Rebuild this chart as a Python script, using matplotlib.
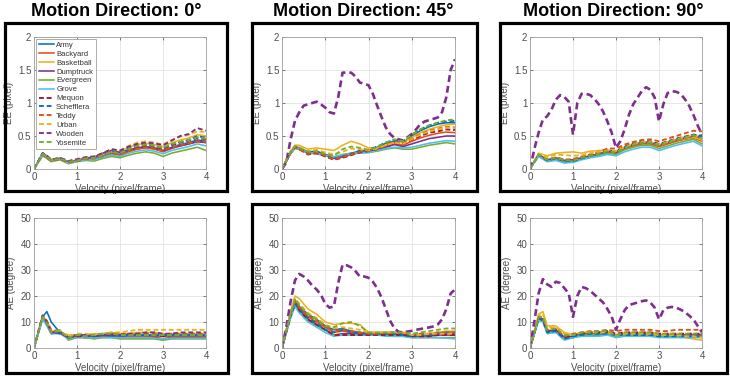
import matplotlib
matplotlib.use("Agg")
import matplotlib.pyplot as plt
from matplotlib.patches import Rectangle

plt.rcParams['font.family'] = ['Liberation Sans', 'DejaVu Sans']

# velocity grids (pixel/frame)
vel = [0.0, 0.2, 0.3, 0.4, 0.6, 0.8, 1.0, 1.2, 1.4, 1.6, 1.8, 2.0,
       2.2, 2.4, 2.6, 2.8, 3.0, 3.2, 3.4, 3.6, 3.8, 4.0]
vel_fine = [0.0, 0.1, 0.2, 0.3, 0.4, 0.5, 0.6, 0.7, 0.8, 0.9, 1.0,
            1.1, 1.2, 1.3, 1.4, 1.5, 1.6, 1.7, 1.8, 1.9, 2.0,
            2.1, 2.2, 2.3, 2.4, 2.5, 2.6, 2.7, 2.8, 2.9, 3.0,
            3.1, 3.2, 3.3, 3.4, 3.5, 3.6, 3.7, 3.8, 3.9, 4.0]

sequences = ["Army", "Backyard", "Basketball", "Dumptruck", "Evergreen", "Grove",
             "Mequon", "Schefflera", "Teddy", "Urban", "Wooden", "Yosemite"]
directions = ["0°", "45°", "90°"]

# endpoint error (pixel), direction 0
ee_0 = [
    [0, .24, .20, .14, .16, .11, .13, .15, .16, .20, .24, .22, .27, .31, .33, .31, .27, .33, .37, .40, .44, .42],
    [0, .22, .17, .12, .15, .10, .12, .15, .15, .19, .23, .21, .26, .30, .32, .30, .26, .31, .35, .38, .41, .40],
    [0, .23, .19, .13, .17, .11, .14, .17, .18, .23, .28, .26, .33, .37, .39, .37, .34, .40, .44, .47, .52, .50],
    [0, .21, .18, .12, .16, .10, .13, .16, .18, .24, .28, .25, .29, .32, .34, .32, .28, .32, .35, .38, .42, .40],
    [0, .20, .16, .11, .14, .08, .11, .13, .12, .16, .19, .17, .21, .24, .26, .24, .19, .24, .27, .30, .33, .28],
    [0, .22, .18, .12, .15, .09, .12, .14, .14, .18, .21, .19, .24, .27, .29, .27, .23, .28, .31, .34, .38, .35],
    [0, .23, .18, .13, .16, .11, .13, .16, .17, .22, .27, .24, .29, .33, .36, .34, .30, .36, .40, .43, .47, .45],
    [0, .24, .20, .14, .17, .12, .14, .17, .17, .22, .27, .25, .31, .35, .37, .35, .31, .37, .41, .44, .50, .47],
    [0, .22, .17, .12, .15, .10, .12, .15, .16, .20, .25, .22, .27, .31, .33, .31, .28, .33, .36, .39, .42, .41],
    [0, .23, .19, .13, .17, .12, .14, .17, .19, .24, .30, .28, .35, .40, .42, .40, .37, .44, .49, .52, .57, .56],
    [0, .24, .20, .14, .17, .12, .15, .18, .19, .24, .30, .28, .34, .38, .40, .39, .36, .43, .50, .53, .62, .58],
    [0, .23, .19, .13, .16, .11, .13, .16, .17, .21, .26, .24, .30, .35, .37, .35, .32, .38, .41, .44, .48, .46],
]

# endpoint error (pixel), direction 45
ee_45 = [
    [0, .26, .34, .32, .26, .27, .22, .18, .20, .24, .27, .28, .33, .39, .42, .40, .50, .58, .64, .68, .70, .70],
    [0, .25, .33, .30, .24, .25, .21, .16, .18, .22, .25, .27, .30, .34, .38, .36, .42, .47, .51, .54, .56, .55],
    [0, .27, .36, .36, .30, .32, .30, .28, .36, .42, .38, .32, .32, .36, .40, .40, .48, .55, .60, .64, .67, .68],
    [0, .24, .33, .30, .25, .26, .22, .16, .19, .23, .25, .26, .29, .33, .37, .34, .38, .42, .46, .48, .50, .50],
    [0, .23, .31, .30, .24, .23, .20, .18, .22, .24, .25, .25, .27, .30, .32, .30, .30, .33, .36, .38, .40, .38],
    [0, .24, .32, .31, .25, .24, .21, .19, .21, .23, .24, .25, .28, .31, .33, .32, .33, .36, .39, .41, .43, .42],
    [0, .25, .33, .30, .22, .24, .19, .14, .17, .21, .25, .27, .30, .36, .40, .38, .44, .50, .55, .57, .60, .59],
    [0, .26, .34, .31, .24, .26, .21, .15, .19, .23, .28, .29, .34, .40, .44, .42, .52, .60, .66, .70, .72, .73],
    [0, .25, .33, .30, .23, .25, .20, .15, .18, .22, .26, .28, .31, .37, .41, .39, .46, .53, .58, .61, .64, .63],
    [0, .27, .35, .33, .27, .29, .25, .22, .26, .31, .30, .28, .31, .36, .40, .38, .45, .52, .57, .60, .63, .62],
    [0, .10, .45, .73, .86, .96, .98, 1.0, 1.02, .98, .93, .86, .84, 1.09, 1.46, 1.46, 1.46, 1.40, 1.31, 1.29, 1.27,
     1.14, .96, .79, .63, .53, .47, .45, .43, .48, .53, .60, .68, .72, .74, .76, .78, .86, 1.09, 1.50, 1.66],
    [0, .26, .35, .32, .26, .27, .23, .20, .30, .34, .32, .29, .33, .40, .45, .42, .52, .60, .66, .70, .74, .75],
]

# endpoint error (pixel), direction 90
ee_90 = [
    [0, .22, .17, .12, .15, .10, .11, .15, .18, .21, .25, .23, .31, .36, .39, .39, .35, .39, .43, .46, .50, .46],
    [0, .21, .17, .13, .16, .12, .12, .16, .19, .22, .26, .24, .31, .35, .38, .38, .34, .38, .42, .45, .47, .42],
    [0, .24, .22, .20, .24, .25, .26, .24, .27, .28, .29, .27, .33, .37, .40, .40, .36, .40, .44, .46, .48, .44],
    [0, .22, .18, .14, .17, .13, .14, .17, .20, .23, .27, .25, .32, .37, .40, .40, .36, .40, .44, .47, .50, .48],
    [0, .20, .16, .12, .15, .11, .12, .15, .18, .21, .24, .22, .29, .33, .36, .36, .31, .35, .39, .42, .45, .38],
    [0, .19, .15, .11, .13, .09, .10, .14, .17, .19, .22, .20, .26, .30, .33, .33, .28, .32, .36, .39, .42, .35],
    [0, .22, .18, .14, .17, .14, .14, .18, .21, .24, .28, .27, .34, .39, .42, .42, .38, .42, .46, .49, .52, .50],
    [0, .22, .17, .13, .16, .12, .12, .16, .20, .23, .27, .26, .33, .38, .41, .41, .37, .41, .45, .48, .52, .50],
    [0, .22, .18, .14, .18, .14, .15, .19, .22, .26, .31, .31, .37, .41, .44, .45, .42, .46, .50, .54, .58, .57],
    [0, .23, .20, .18, .22, .21, .20, .21, .24, .26, .28, .27, .33, .38, .41, .41, .37, .41, .45, .48, .51, .47],
    [0, .30, .55, .75, .80, .90, 1.05, 1.12, 1.09, 1.02, .52, 1.0, 1.14, 1.14, 1.12, 1.06, .98, .87, .72, .55, .32,
     .42, .60, .82, .98, 1.08, 1.18, 1.24, 1.20, 1.08, .72, .98, 1.15, 1.18, 1.17, 1.14, 1.06, .96, .82, .66, .52],
    [0, .22, .18, .14, .17, .13, .13, .17, .20, .23, .27, .25, .32, .37, .40, .40, .36, .40, .44, .47, .51, .46],
]

# angular error (degree), direction 0
ae_0 = [
    [0, 12.0, 14.0, 10.0, 6.0, 4.0, 4.5, 4.0, 4.0, 4.5, 4.5, 4.0, 4.0, 4.0, 4.0, 4.0, 3.5, 4.0, 4.0, 4.0, 4.0, 4.0],
    [0, 12.0, 9.5, 6.0, 6.0, 4.0, 4.5, 4.5, 4.5, 4.5, 5.0, 4.5, 4.5, 4.5, 4.5, 4.5, 4.5, 4.5, 4.5, 4.5, 4.5, 4.5],
    [0, 12.5, 10.0, 6.5, 6.0, 5.0, 5.0, 5.0, 5.5, 5.5, 6.0, 5.5, 5.5, 6.0, 6.0, 6.0, 5.5, 5.5, 5.5, 5.5, 5.5, 5.5],
    [0, 12.0, 9.0, 5.5, 6.0, 4.0, 4.5, 4.0, 4.5, 5.0, 5.0, 4.5, 4.0, 4.0, 4.0, 4.0, 3.5, 4.0, 4.0, 4.0, 4.0, 4.0],
    [0, 11.5, 9.0, 6.0, 7.0, 3.0, 4.0, 4.0, 3.5, 4.0, 4.0, 3.5, 3.5, 3.5, 3.5, 3.5, 3.0, 3.5, 3.5, 3.5, 3.5, 3.5],
    [0, 11.0, 8.5, 5.5, 5.5, 3.5, 4.0, 4.0, 4.0, 4.0, 4.0, 4.0, 4.0, 4.0, 4.0, 3.8, 3.5, 3.8, 3.8, 3.8, 3.8, 3.8],
    [0, 12.0, 9.5, 6.0, 6.0, 4.0, 4.5, 4.5, 5.0, 5.0, 5.5, 5.0, 5.0, 5.0, 5.0, 5.0, 4.5, 5.0, 5.0, 5.0, 5.0, 5.0],
    [0, 12.0, 10.0, 6.5, 5.5, 4.5, 5.0, 5.0, 4.5, 5.0, 5.5, 5.0, 5.0, 5.0, 5.0, 5.0, 5.0, 5.0, 5.0, 5.0, 5.0, 5.0],
    [0, 12.5, 10.5, 7.0, 6.5, 4.0, 5.0, 5.0, 5.0, 5.5, 5.5, 5.5, 5.5, 5.5, 5.5, 5.5, 5.0, 5.5, 5.5, 5.5, 5.5, 5.5],
    [0, 12.0, 10.0, 6.5, 6.5, 4.5, 5.5, 5.5, 5.0, 5.5, 6.0, 6.0, 6.5, 7.0, 7.0, 7.0, 7.0, 7.0, 7.0, 7.0, 7.0, 7.0],
    [0, 12.5, 10.0, 6.0, 6.0, 4.0, 5.0, 5.0, 4.5, 5.0, 5.0, 5.0, 5.5, 5.5, 6.0, 6.0, 5.5, 5.5, 6.0, 6.0, 6.0, 6.0],
    [0, 12.0, 9.5, 6.0, 6.5, 4.0, 5.0, 4.5, 5.0, 5.5, 5.5, 5.0, 5.0, 5.0, 5.0, 5.0, 5.0, 5.0, 5.0, 5.0, 5.0, 5.0],
]

# angular error (degree), direction 45
ae_45 = [
    [0, 13, 18.5, 16, 13, 11, 8.5, 7, 7.5, 6.5, 6, 5.5, 5.5, 5.5, 5.5, 5.5, 4.5, 5, 5, 5.5, 5.5, 5.5],
    [0, 13, 18, 15.5, 12, 10, 8, 6, 6.5, 6, 5.5, 5.5, 5.5, 5.5, 5.5, 5.5, 5, 5, 5.5, 5.5, 6, 6],
    [0, 14, 20, 19, 15, 13, 10, 9, 9.5, 9.5, 9, 6, 6, 6, 6, 6, 5, 5.5, 5.5, 6, 6.5, 6.5],
    [0, 12.5, 17, 14.5, 11, 9, 7, 5, 5.5, 5.5, 5, 5, 5, 5, 5, 5, 4.5, 4.5, 4.5, 5, 5, 5],
    [0, 12, 17, 14, 10.5, 8.5, 7, 5, 5, 5, 5, 5, 5, 5, 4.5, 4.5, 4, 4, 4, 4, 4, 4],
    [0, 11.5, 16, 13.5, 10, 8, 6, 4.5, 5, 5, 5, 5, 5, 4.5, 4.5, 4.5, 4, 4, 4, 4, 3.8, 3.5],
    [0, 12.5, 17.5, 14.5, 11, 9, 7, 5, 5, 5, 5, 5, 5, 5, 5, 5, 4.5, 4.5, 4.5, 5, 5, 5],
    [0, 12.5, 17, 15, 11.5, 9.5, 7, 6, 7, 6, 5.5, 5.5, 5.5, 5.5, 5.5, 5, 4.5, 5, 5, 5.5, 6, 6],
    [0, 13, 18, 15.5, 12.5, 10.5, 8, 6.5, 7, 6.5, 6, 5.5, 5.5, 6, 6, 6, 5, 5.5, 5.5, 6, 6, 6],
    [0, 13.5, 19, 17, 13.5, 11.5, 9, 7.5, 8, 7.5, 7, 6, 6, 6, 6, 6, 5, 5, 5.5, 5.5, 5.5, 5.5],
    [0, 8, 18, 26, 28.5, 27.5, 26, 24, 22.5, 20.5, 17, 15.5, 16, 25, 32, 31.8, 31, 29.5, 27.5, 27.5, 27,
     25.5, 23, 19.5, 15, 10.5, 7.5, 6.2, 6, 6.3, 6.6, 7, 7.3, 7.6, 7.9, 8.3, 9, 11, 15, 21, 22.5],
    [0, 13.5, 19, 16.5, 13, 11, 8.5, 8, 9.5, 10, 8.5, 6, 6, 6, 6, 6, 5.5, 6, 6.5, 7, 7.5, 7.5],
]

# angular error (degree), direction 90
ae_90 = [
    [0, 12, 11, 6, 6.5, 3.5, 4, 5, 5, 5, 5.5, 4.5, 5, 5, 5, 5, 4.5, 4.5, 4.5, 4.5, 4.5, 4.5],
    [0, 11.5, 10.5, 6.5, 6.5, 4, 4.5, 5.5, 5.5, 5.5, 6, 5, 5.5, 5.5, 5.5, 5.5, 5, 5, 5, 5, 5, 5],
    [0, 13, 14, 8.5, 8.5, 6, 5, 6, 6, 6, 6.5, 5, 5.5, 5.5, 5, 5, 4.5, 4.5, 4.5, 4, 3.5, 3],
    [0, 11.5, 11, 6.5, 7, 4, 4.5, 5.5, 5.5, 6, 6, 5, 5.5, 5.5, 5.5, 5, 5, 5, 5, 5, 5, 5],
    [0, 11, 10.5, 6, 6, 3.5, 4, 5, 5, 5.5, 5.5, 4.5, 5, 5, 5, 5, 4.5, 4.5, 4.5, 4.5, 4.5, 4.5],
    [0, 10.5, 10, 5.5, 6, 3, 4, 4.5, 4.5, 4.5, 5, 4, 4.5, 4.5, 4.5, 4.5, 4, 4, 4, 4, 4, 4],
    [0, 11.5, 11, 6.5, 7, 4, 5, 5.5, 6, 6, 6.5, 5.5, 6, 6, 6, 6, 5.5, 5.5, 5.5, 5.5, 5.5, 5.5],
    [0, 11.5, 10.5, 6, 6.5, 3.5, 4.5, 5, 5.5, 5.5, 5.5, 5, 5, 5, 5, 5, 4.5, 4.5, 4.5, 4.5, 4.5, 4.5],
    [0, 12, 11.5, 7, 7.5, 4.5, 5.5, 6, 6.5, 6.5, 7, 6.5, 7, 7, 7, 7, 6.5, 6.5, 7, 7, 7, 7],
    [0, 12.5, 13, 8, 8, 5.5, 5, 6, 6, 6, 6, 5, 5.5, 5.5, 5.5, 5.5, 5, 5, 5, 4.5, 4.5, 4],
    [0, 10, 21, 26.5, 24.5, 23.5, 25.5, 25, 23, 21, 12, 20, 23.5, 23, 22, 20.5, 19, 17.5, 15, 12, 7,
     11, 14.5, 16.5, 17, 17.5, 18, 18.3, 17.5, 15.5, 11, 14.5, 15.5, 15.8, 15.5, 14.8, 13.8, 12.5, 11, 8.5, 6],
    [0, 12, 12, 7, 7.5, 5, 5, 6, 6, 6.5, 6.5, 5, 6, 6, 6, 6, 5.5, 5.5, 5.5, 5.5, 5.5, 5.5],
]

# MATLAB default colour order: six solid, then six dashed
seq_colors = ["#0072BD", "#D95319", "#EDB120", "#7E2F8E", "#77AC30", "#4DBEEE",
              "#A2142F", "#0072BD", "#D95319", "#EDB120", "#7E2F8E", "#77AC30"]

W, H = 730, 379
fig = plt.figure(figsize=(W / 100, H / 100), dpi=100)


def fx(px):
    return px / W


def fy(py):
    return 1 - py / H


axes_x = [(34, 206), (282, 455), (530, 702)]
rows = [
    dict(data=[ee_0, ee_45, ee_90], y0=169, y1=37, ylim=(0, 2),
         yticks=[0, 0.5, 1, 1.5, 2], yticklabels=["0", "0.5", "1", "1.5", "2"], ylabel="EE (pixel)"),
    dict(data=[ae_0, ae_45, ae_90], y0=348, y1=218, ylim=(0, 50),
         yticks=[0, 10, 20, 30, 40, 50], yticklabels=["0", "10", "20", "30", "40", "50"], ylabel="AE (degree)"),
]
boxes = [
    [(5, 23, 227, 191), (252, 23, 477, 191), (500, 23, 728, 191)],
    [(6, 204, 228, 373), (252, 204, 477, 373), (499, 204, 727, 373)],
]
gray_txt = "#4d4d4d"

for r, row in enumerate(rows):
    for c, (xa, xb) in enumerate(axes_x):
        ax = fig.add_axes([fx(xa), fy(row["y0"]), fx(xb - xa), (row["y0"] - row["y1"]) / H])
        for i, name in enumerate(sequences):
            vals = row["data"][c][i]
            xs = vel_fine if len(vals) == len(vel_fine) else vel
            if i < 6:
                ax.plot(xs, vals, color=seq_colors[i], lw=1.15, label=name)
            else:
                lw = 1.9 if name == "Wooden" and c > 0 else 1.35
                ax.plot(xs, vals, color=seq_colors[i], lw=lw, ls=(0, (2.6, 1.5)), label=name)
        ax.set_xlim(0, 4)
        ax.set_ylim(*row["ylim"])
        ax.set_xticks([0, 1, 2, 3, 4])
        ax.set_yticks(row["yticks"])
        ax.set_yticklabels(row["yticklabels"])
        ax.grid(True, color="#e3e3e3", lw=0.6)
        ax.set_axisbelow(True)
        ax.tick_params(direction="in", length=2, width=0.5, labelsize=7,
                       colors=gray_txt, pad=2, top=True, right=True)
        for sp in ax.spines.values():
            sp.set_color("#a0a0a0")
            sp.set_linewidth(0.6)
        ax.set_xlabel("Velocity (pixel/frame)", fontsize=7, color=gray_txt, labelpad=1.5)
        ax.set_ylabel(row["ylabel"], fontsize=7, color=gray_txt, labelpad=3)
        if r == 0 and c == 0:
            leg = ax.legend(loc="upper left", fontsize=5.5, handlelength=2.0, handletextpad=0.3,
                            labelspacing=0.2, borderpad=0.35, borderaxespad=0.25,
                            fancybox=False, framealpha=1)
            leg.get_frame().set_edgecolor("#a0a0a0")
            leg.get_frame().set_linewidth(0.6)
            for t in leg.get_texts():
                t.set_color("#333333")

        bx0, by0, bx1, by1 = boxes[r][c]
        fig.add_artist(Rectangle((fx(bx0), fy(by1)), fx(bx1 - bx0), (by1 - by0) / H,
                                 transform=fig.transFigure, fill=False,
                                 edgecolor="black", lw=2.3, zorder=5))

title_x = [116, 363, 613]
for c, d in enumerate(directions):
    fig.text(fx(title_x[c]), fy(12), "Motion Direction: " + d, ha="center", va="center",
             fontsize=13, fontweight="bold", color="black")

fig.savefig("out.png", dpi=100)
